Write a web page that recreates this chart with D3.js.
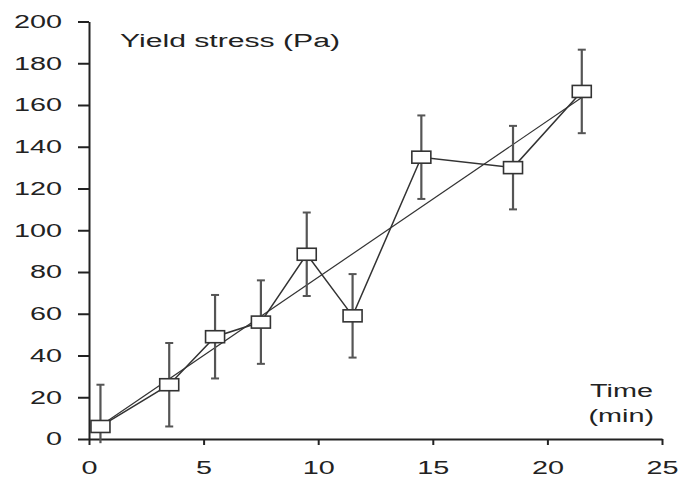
<!DOCTYPE html>
<html><head><meta charset="utf-8">
<script src="https://cdn.jsdelivr.net/npm/d3@7"></script>
<style>body{margin:0;background:#fff}svg{display:block}text{font-family:"Liberation Sans",Arial,sans-serif;fill:#222}</style>
</head><body><svg id="c" width="680" height="479"></svg>
<script>
const times = [0.5, 3.5, 5.5, 7.5, 9.5, 11.5, 14.5, 18.5, 21.5];
const yieldStress = [6, 26, 49, 56, 88.5, 59, 135, 130, 166.5];
const errors = [20, 20, 20, 20, 20, 20, 20, 20, 20];
const xTicks = [0, 5, 10, 15, 20, 25];
const yTicks = [0, 20, 40, 60, 80, 100, 120, 140, 160, 180, 200];
const yLabel = "Yield stress (Pa)";
const xLabel = ["Time", "(min)"];

const SX = 1.6;
const svg = d3.select("#c");
const x = d3.scaleLinear().domain([0, 25]).range([89, 662]);
const y = d3.scaleLinear().domain([0, 200]).range([439, 21.5]);

// axes
const ya = svg.append("g").attr("transform", "translate(89,0)")
  .call(d3.axisLeft(y).tickValues(yTicks).tickSizeInner(11).tickSizeOuter(0).tickFormat(d3.format("d")));
ya.selectAll("text").attr("x", -27 / SX).attr("transform", `scale(${SX},1)`).style("font-size", "18px");
const xa = svg.append("g").attr("transform", "translate(0,439)")
  .call(d3.axisBottom(x).tickValues(xTicks).tickSizeInner(6).tickSizeOuter(0).tickFormat(d3.format("d")));
xa.selectAll("text").attr("y", 35).attr("dy", null).attr("x", 0)
  .attr("transform", `scale(${SX},1)`).style("font-size", "18px");
svg.selectAll(".domain, .tick line").attr("stroke", "#222").attr("stroke-width", 2);

// linear regression line
const mx = d3.mean(times), my = d3.mean(yieldStress);
const slope = d3.sum(times, (t, i) => (t - mx) * (yieldStress[i] - my)) / d3.sum(times, t => (t - mx) ** 2);
const icpt = my - slope * mx;
const x0 = d3.min(times), x1 = d3.max(times);
svg.append("line").attr("x1", x(x0)).attr("y1", y(icpt + slope * x0))
  .attr("x2", x(x1)).attr("y2", y(icpt + slope * x1))
  .attr("stroke", "#333").attr("stroke-width", 1.2);

// connecting line
const pts = times.map((t, i) => [t, yieldStress[i], errors[i]]);
svg.append("path").datum(pts)
  .attr("d", d3.line().x(d => x(d[0])).y(d => y(d[1])))
  .attr("fill", "none").attr("stroke", "#333").attr("stroke-width", 1.5);

// error bars (lower end limited just below the axis)
const lo = d => Math.max(d[1] - d[2], -2);
const eb = svg.append("g").selectAll("g").data(pts).join("g").attr("stroke", "#555").attr("stroke-width", 2.2);
eb.append("line").attr("x1", d => x(d[0])).attr("x2", d => x(d[0]))
  .attr("y1", d => y(lo(d))).attr("y2", d => y(d[1] + d[2]));
eb.append("line").attr("x1", d => x(d[0]) - 4).attr("x2", d => x(d[0]) + 4)
  .attr("y1", d => y(d[1] + d[2])).attr("y2", d => y(d[1] + d[2])).attr("stroke-width", 2);
eb.filter(d => d[1] - d[2] >= 0).append("line").attr("x1", d => x(d[0]) - 4).attr("x2", d => x(d[0]) + 4)
  .attr("y1", d => y(d[1] - d[2])).attr("y2", d => y(d[1] - d[2])).attr("stroke-width", 2);

// markers
svg.append("g").selectAll("rect").data(pts).join("rect")
  .attr("x", d => x(d[0]) - 9.5).attr("y", d => y(d[1]) - 6)
  .attr("width", 19).attr("height", 12)
  .attr("fill", "#fff").attr("stroke", "#333").attr("stroke-width", 1.6);

// labels
svg.append("text").attr("x", 120).attr("y", 47)
  .attr("textLength", 220).attr("lengthAdjust", "spacingAndGlyphs")
  .style("font-size", "18px").text(yLabel);
svg.append("text").attr("transform", `translate(653,397) scale(${SX},1)`)
  .attr("text-anchor", "end").style("font-size", "18px").text(xLabel[0]);
svg.append("text").attr("transform", `translate(654,422) scale(${SX},1)`)
  .attr("text-anchor", "end").style("font-size", "18px").text(xLabel[1]);
</script></body></html>
